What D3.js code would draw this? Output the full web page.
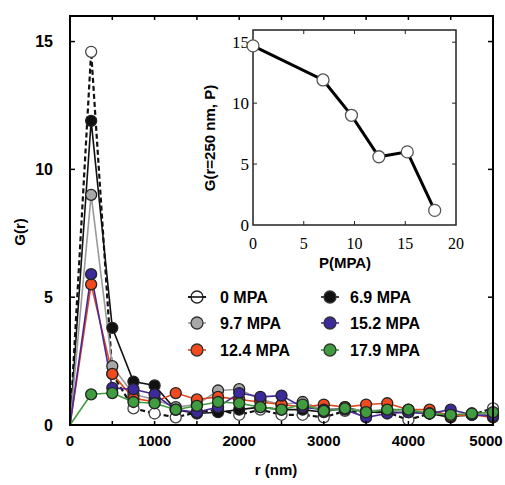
<!DOCTYPE html>
<html><head><meta charset="utf-8">
<script src="https://cdn.jsdelivr.net/npm/d3@7"></script>
<style>body{margin:0;background:#fff}svg{display:block}</style>
</head><body>
<script>
const rValues = [0,250,500,750,1000,1250,1500,1750,2000,2250,2500,2750,3000,3250,3500,3750,4000,4250,4500,4750,5000];
const seriesNames = ["0 MPA","6.9 MPA","9.7 MPA","12.4 MPA","15.2 MPA","17.9 MPA"];
const g0   = [0,14.6,2.0,0.65,0.45,0.3,0.5,0.6,0.4,0.6,0.4,0.4,0.3,0.55,0.5,0.5,0.2,0.45,0.35,0.4,0.65];
const g69  = [0,11.9,3.8,1.7,1.55,0.6,0.45,0.5,0.6,0.7,0.6,0.6,0.5,0.7,0.5,0.5,0.5,0.45,0.3,0.45,0.35];
const g97  = [0,9.0,2.3,1.2,1.0,0.7,0.8,1.35,1.4,1.0,0.8,0.9,0.6,0.65,0.55,0.6,0.5,0.5,0.4,0.4,0.45];
const g124 = [0,5.5,2.0,1.05,0.9,1.25,1.0,1.1,1.0,0.9,0.8,0.7,0.8,0.7,0.8,0.85,0.6,0.6,0.35,0.4,0.3];
const g152 = [0,5.9,1.45,1.4,1.2,0.6,0.5,0.7,1.25,1.1,1.15,0.7,0.6,0.6,0.3,0.45,0.5,0.45,0.6,0.4,0.35];
const g179 = [0,1.2,1.25,0.9,0.85,0.6,0.75,0.9,0.85,0.7,0.6,0.8,0.55,0.65,0.5,0.6,0.6,0.45,0.4,0.45,0.5];
const seriesFill = ["#ffffff","#111111","#a8a8a8","#f04a1e","#3a2a9c","#3f9c3f"];
const seriesLine = ["#111111","#111111","#9a9a9a","#e0461e","#4a2a9a","#3f9c3f"];
const seriesDash = ["5,3",null,null,null,null,null];
const legendCol = [0,1,0,0,1,1];
const legendRow = [0,0,1,2,1,2];
const xTicksMain = [0,1000,2000,3000,4000,5000];
const yTicksMain = [0,5,10,15];
const insetP = [0,6.9,9.7,12.4,15.2,17.9];
const insetG = [14.7,11.9,9.0,5.6,6.0,1.2];
const insetXTicks = [0,5,10,15,20];
const insetYTicks = [0,5,10,15];

const allSeries = [g0,g69,g97,g124,g152,g179];
const W=505,H=485;
const svg=d3.select("body").append("svg").attr("width",W).attr("height",H);
const L=70,R=493,T=16,B=425;
const x=d3.scaleLinear().domain([0,5000]).range([L,R]);
const y=d3.scaleLinear().domain([0,16]).range([B,T]);
const sans="'Liberation Sans',Arial,sans-serif";
const serif="'Liberation Serif','Times New Roman',serif";

// lines and markers
const line=d3.line().x((d,i)=>x(rValues[i])).y(d=>y(d));
allSeries.forEach((s,k)=>{
  svg.append("path").attr("d",line(s)).attr("fill","none")
    .attr("stroke",seriesLine[k]).attr("stroke-width",k===0?2.2:1.6)
    .attr("stroke-dasharray",seriesDash[k]);
});
allSeries.forEach((s,k)=>{
  svg.append("g").selectAll("circle").data(s.map((v,i)=>[rValues[i],v]).filter(d=>d[0]>0))
    .join("circle").attr("cx",d=>x(d[0])).attr("cy",d=>y(d[1])).attr("r",5.5)
    .attr("fill",seriesFill[k]).attr("stroke",k===0?"#444":"#222").attr("stroke-width",1.3);
});

// main axes
const frame=svg.append("g");
frame.append("rect").attr("x",L).attr("y",T).attr("width",R-L).attr("height",B-T)
  .attr("fill","none").attr("stroke","#000").attr("stroke-width",2);
const xt=d3.range(500,5000,500);
frame.selectAll(".tb").data(xt).join("line").attr("x1",d=>x(d)).attr("x2",d=>x(d))
  .attr("y1",B).attr("y2",B-4).attr("stroke","#000").attr("stroke-width",1.5);
frame.selectAll(".tt").data(xt).join("line").attr("x1",d=>x(d)).attr("x2",d=>x(d))
  .attr("y1",T).attr("y2",T+4).attr("stroke","#000").attr("stroke-width",1.5);
frame.selectAll(".yl").data(yTicksMain.slice(1)).join("line").attr("x1",L).attr("x2",L+5)
  .attr("y1",d=>y(d)).attr("y2",d=>y(d)).attr("stroke","#000").attr("stroke-width",1.5);
frame.selectAll(".yr").data(yTicksMain.slice(1)).join("line").attr("x1",R).attr("x2",R-5)
  .attr("y1",d=>y(d)).attr("y2",d=>y(d)).attr("stroke","#000").attr("stroke-width",1.5);
svg.selectAll(".xl").data(xTicksMain).join("text").attr("x",d=>Math.min(x(d),486)).attr("y",446)
  .attr("text-anchor","middle").attr("font-family",sans).attr("font-weight","bold")
  .attr("font-size",15).text(d=>d);
svg.selectAll(".yt").data(yTicksMain).join("text").attr("x",53).attr("y",d=>y(d)+5.5)
  .attr("text-anchor","end").attr("font-family",sans).attr("font-weight","bold")
  .attr("font-size",16).text(d=>d);
svg.append("text").attr("x",276).attr("y",475).attr("text-anchor","middle")
  .attr("font-family",sans).attr("font-weight","bold").attr("font-size",15).text("r (nm)");
svg.append("text").attr("transform","translate(25,232) rotate(-90)").attr("text-anchor","middle")
  .attr("font-family",sans).attr("font-weight","bold").attr("font-size",15).text("G(r)");

// legend
const legX=[197,330], legY=[297,323,350];
seriesNames.forEach((n,k)=>{
  const col=legendCol[k], row=legendRow[k];
  const cx=legX[col], cy=legY[row];
  svg.append("line").attr("x1",cx-9).attr("x2",cx+9).attr("y1",cy).attr("y2",cy)
    .attr("stroke",seriesLine[k]).attr("stroke-width",1.6);
  svg.append("circle").attr("cx",cx).attr("cy",cy).attr("r",6)
    .attr("fill",seriesFill[k]).attr("stroke",k===0?"#222":"#333").attr("stroke-width",1.3);
  if(k===0) svg.append("line").attr("x1",cx-9).attr("x2",cx+9).attr("y1",cy).attr("y2",cy)
    .attr("stroke","#111").attr("stroke-width",1.6);
  svg.append("text").attr("x",cx+(col===0?23:20)).attr("y",cy+5.5).attr("font-family",sans)
    .attr("font-weight","bold").attr("font-size",16).text(n);
});

// inset
const iL=253,iR=456,iT=30,iB=225;
const ix=d3.scaleLinear().domain([0,20]).range([iL,iR]);
const iy=d3.scaleLinear().domain([0,16]).range([iB,iT]);
const inset=svg.append("g");
inset.append("rect").attr("x",iL).attr("y",iT).attr("width",iR-iL).attr("height",iB-iT)
  .attr("fill","#fff").attr("stroke","#222").attr("stroke-width",1.5);
inset.selectAll(".ixt").data(insetXTicks.slice(1,-1)).join("line").attr("x1",d=>ix(d)).attr("x2",d=>ix(d))
  .attr("y1",iB).attr("y2",iB-4).attr("stroke","#222");
inset.selectAll(".ixt2").data(insetXTicks.slice(1,-1)).join("line").attr("x1",d=>ix(d)).attr("x2",d=>ix(d))
  .attr("y1",iT).attr("y2",iT+4).attr("stroke","#222");
inset.selectAll(".iyt").data(insetYTicks.slice(1)).join("line").attr("x1",iL).attr("x2",iL+4)
  .attr("y1",d=>iy(d)).attr("y2",d=>iy(d)).attr("stroke","#222");
inset.selectAll(".iyt2").data(insetYTicks.slice(1)).join("line").attr("x1",iR).attr("x2",iR-4)
  .attr("y1",d=>iy(d)).attr("y2",d=>iy(d)).attr("stroke","#222");
inset.selectAll(".ixl").data(insetXTicks).join("text").attr("x",d=>ix(d)).attr("y",249)
  .attr("text-anchor","middle").attr("font-family",serif).attr("font-size",16).text(d=>d);
inset.selectAll(".iyl").data(insetYTicks).join("text").attr("x",249).attr("y",d=>iy(d)+6)
  .attr("text-anchor","end").attr("font-family",serif).attr("font-size",17).text(d=>d);
inset.append("text").attr("x",345).attr("y",268).attr("text-anchor","middle")
  .attr("font-family",sans).attr("font-weight","bold").attr("font-size",15).text("P(MPA)");
inset.append("text").attr("transform","translate(215,138) rotate(-90)").attr("text-anchor","middle")
  .attr("font-family",sans).attr("font-weight","bold").attr("font-size",15).text("G(r=250 nm, P)");
const iline=d3.line().x((d,i)=>ix(insetP[i])).y(d=>iy(d));
inset.append("path").attr("d",iline(insetG)).attr("fill","none").attr("stroke","#000")
  .attr("stroke-width",3);
inset.selectAll(".ip").data(insetG).join("circle").attr("cx",(d,i)=>ix(insetP[i])).attr("cy",d=>iy(d))
  .attr("r",6).attr("fill","#fff").attr("stroke","#555").attr("stroke-width",1.3);
</script>
</body></html>
